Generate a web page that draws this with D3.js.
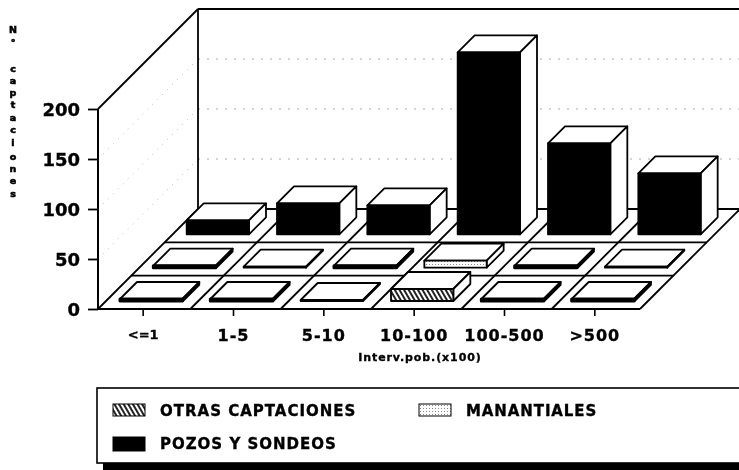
<!DOCTYPE html>
<html><head><meta charset="utf-8">
<script src="https://cdnjs.cloudflare.com/ajax/libs/d3/7.8.5/d3.min.js"></script>
<style>html,body{margin:0;padding:0;background:#fff}svg{display:block;filter:blur(0.4px)}
text{font-family:"DejaVu Sans",sans-serif;font-weight:bold;fill:#000;stroke:#000;stroke-width:0.35px}</style></head>
<body><div id="c"></div>
<script>
const categories=["<=1","1-5","5-10","10-100","100-500",">500"];
const seriesNames=["OTRAS CAPTACIONES","MANANTIALES","POZOS Y SONDEOS"];
const otras=[2,2,1,12,2,2];
const manantiales=[2,1,2,7,2,1];
const pozos=[14,31,29,182,91,61];
const yTicks=[0,50,100,150,200];
const yTitle="N° captaciones";
const xTitle="Interv.pob.(x100)";
const seriesValues=[otras,manantiales,pozos];
const seriesFill=["url(#hatch)","url(#dots)","#000"];

const W=739,H=470;
const svg=d3.select("#c").append("svg").attr("width",W).attr("height",H);
const defs=svg.append("defs");
const h=defs.append("pattern").attr("id","hatch").attr("width",4).attr("height",4)
 .attr("patternUnits","userSpaceOnUse").attr("patternTransform","rotate(-30)");
h.append("rect").attr("width",4).attr("height",4).attr("fill","#fff");
h.append("rect").attr("width",2).attr("height",4).attr("fill","#222");
const p=defs.append("pattern").attr("id","dots").attr("width",3).attr("height",3).attr("patternUnits","userSpaceOnUse");
p.append("rect").attr("width",3).attr("height",3).attr("fill","#fff");
p.append("rect").attr("width",1).attr("height",1).attr("fill","#888");

const x=d3.scaleBand().domain(categories).range([98,640]);
const y=d3.scaleLinear().domain([0,200]).range([309,109]);
const depth=d3.scaleBand().domain(seriesNames).range([0,100]);
const maxDepth=100;
const xEnd=x.range()[1],x0=x.range()[0],y0=y(0),yTop=y(200);

// walls
const walls=svg.append("g").attr("fill","none").attr("stroke","#000");
const gridVals=yTicks.filter(v=>v>0&&v<200);
gridVals.forEach(v=>{
  walls.append("line").attr("x1",x0).attr("y1",y(v)).attr("x2",x0+maxDepth).attr("y2",y(v)-maxDepth)
   .attr("stroke","#bbb").attr("stroke-dasharray","1 6").attr("stroke-width",1);
  walls.append("line").attr("x1",x0+maxDepth).attr("y1",y(v)-maxDepth).attr("x2",xEnd+maxDepth).attr("y2",y(v)-maxDepth)
   .attr("stroke","#aaa").attr("stroke-dasharray","2 7").attr("stroke-width",1);
});
const sw=l=>walls.append("line").attr("x1",l[0]).attr("y1",l[1]).attr("x2",l[2]).attr("y2",l[3]).attr("stroke-width",1.8);
sw([x0,yTop,x0+maxDepth,yTop-maxDepth]);
sw([x0+maxDepth,yTop-maxDepth,xEnd+maxDepth,yTop-maxDepth]);
sw([x0+maxDepth,yTop-maxDepth,x0+maxDepth,y0-maxDepth]);
sw([x0+maxDepth,y0-maxDepth,xEnd+maxDepth,y0-maxDepth]);
sw([x0,y0,x0+maxDepth,y0-maxDepth]);
sw([xEnd,y0,xEnd+maxDepth,y0-maxDepth]);
// floor grid
seriesNames.slice(1).forEach(s=>{const d=depth(s);sw([x0+d,y0-d,xEnd+d,y0-d]);});
categories.slice(1).forEach(c=>{const q=x(c)+2;sw([q,y0,q+maxDepth,y0-maxDepth]);});

// bars back to front
const barW=x.bandwidth()*0.69, barInset=x.bandwidth()*0.155;
const bD=depth.bandwidth()*0.51, bIn=depth.bandwidth()*0.24;
const bars=svg.append("g").attr("stroke","#000").attr("stroke-linejoin","round");
[2,1,0].forEach(si=>{
 categories.forEach((c,ci)=>{
  const v=seriesValues[si][ci];
  const d=depth(seriesNames[si])+bIn;
  const L=x(c)+barInset+d, R=L+barW, B=y0-d, T=y(v)-d;
  const g=bars.append("g");
  const thick=v<5?(v>=2?3:1.8):1.8;
  g.append("path").attr("fill","#fff").attr("stroke-width",1.8)
   .attr("d",`M${L},${T}L${L+bD},${T-bD}L${R+bD},${T-bD}L${R},${T}Z`);
  g.append("path").attr("fill","#fff").attr("stroke-width",1.8)
   .attr("d",`M${R},${T}L${R+bD},${T-bD}L${R+bD},${B-bD}L${R},${B}Z`);
  g.append("rect").attr("x",L).attr("y",T).attr("width",barW).attr("height",Math.max(B-T,0.5))
   .attr("fill",seriesFill[si]).attr("stroke-width",thick);
  if(v<5&&v>=2){g.append("line").attr("x1",R).attr("y1",B).attr("x2",R+bD).attr("y2",B-bD).attr("stroke-width",3);}
 });
});

// axes
const ax=svg.append("g").attr("transform",`translate(${x0},0)`)
 .call(d3.axisLeft(y).tickValues(yTicks).tickSize(10).tickPadding(8).tickFormat(d3.format("d")));
ax.select(".domain").attr("stroke-width",2).attr("d",`M0,${yTop}V${y0}`);
ax.selectAll("line").attr("stroke-width",1.8);
ax.selectAll("text").style("font-size","18px").style("font-family",'"DejaVu Sans"').style("font-weight","bold").attr("dy","0.36em");
const bx=svg.append("g").attr("transform",`translate(0,${y0})`)
 .call(d3.axisBottom(x).tickSize(7).tickPadding(14));
bx.select(".domain").attr("stroke-width",2).attr("d",`M${x0},0H${xEnd}`);
bx.selectAll("line").attr("stroke-width",1.6);
bx.selectAll("text").style("font-size","16px").style("letter-spacing","1px").style("font-family",'"DejaVu Sans"').style("font-weight","bold");
bx.selectAll("g.tick").filter(d=>d==="<=1").select("text").style("font-size","13px").style("letter-spacing","0");

// titles
const yLetterY=[30,43,69,81,93,105,118,130,143,157,169,181,194];
const letters=Array.from(yTitle).filter(ch=>ch!==" ");
svg.append("g").selectAll("text").data(letters).join("text")
 .attr("x",13).attr("y",(d,i)=>yLetterY[i]).attr("text-anchor","middle").attr("dominant-baseline","middle")
 .style("font-size","9.5px").style("stroke-width","0.6px").text(d=>d);
svg.append("text").attr("x",420).attr("y",361).attr("text-anchor","middle")
 .style("font-size","11px").style("letter-spacing","0.9px").text(xTitle);

// legend
const lg=svg.append("g");
lg.append("rect").attr("x",103).attr("y",463).attr("width",W).attr("height",7).attr("fill","#000");
lg.append("rect").attr("x",97).attr("y",388).attr("width",W).attr("height",75).attr("fill","#fff").attr("stroke","#000").attr("stroke-width",1.6);
const legendPos=[[113,404,160],[419,404,466],[113,437,160]];
seriesNames.forEach((s,i)=>{
  const [sx,sy,tx]=legendPos[i];
  lg.append("rect").attr("x",sx).attr("y",sy).attr("width",32).attr("height",i==2?14:12)
    .attr("fill",seriesFill[i]).attr("stroke","#000").attr("stroke-width",1);
  lg.append("text").attr("x",tx).attr("y",sy+12).style("font-size","15px").style("letter-spacing",i==1?"0.9px":"1px").text(s);
});
</script></body></html>
